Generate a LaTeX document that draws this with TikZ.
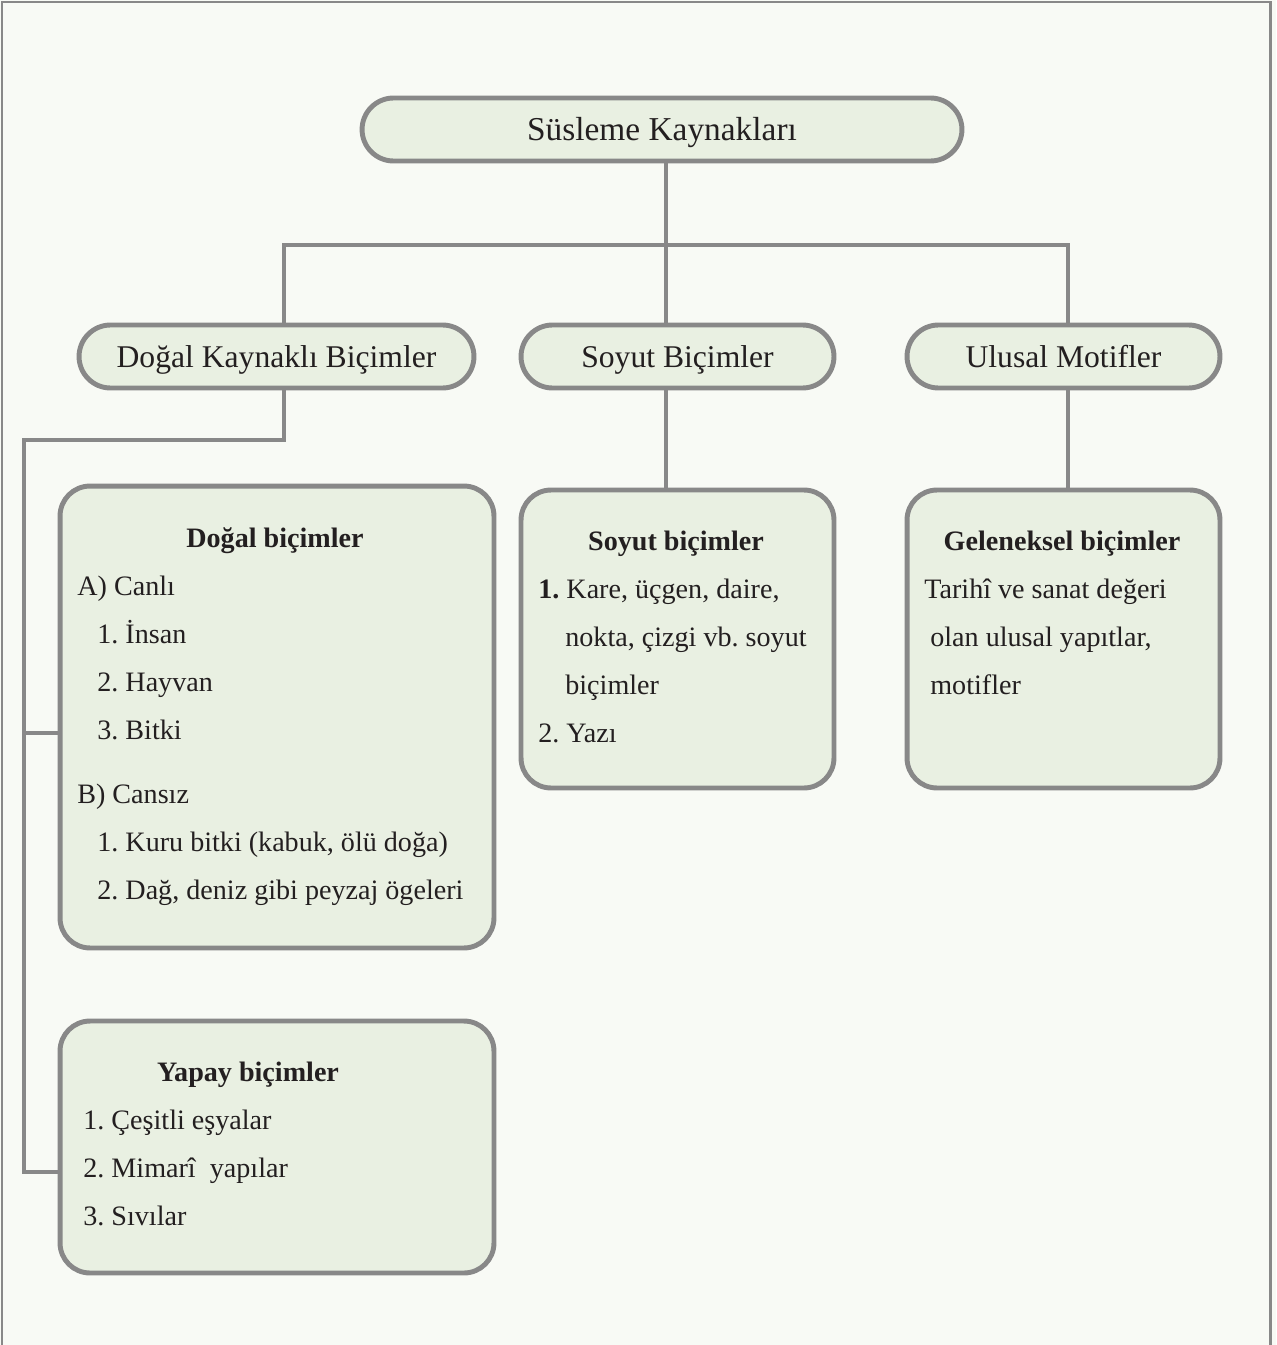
\documentclass[tikz,border=0pt]{standalone}
\usepackage{fontspec}
\setmainfont{Liberation Serif}
\usetikzlibrary{positioning,calc}

\definecolor{bgpaper}{HTML}{F8FAF5}
\definecolor{boxfill}{HTML}{E9F0E2}
\definecolor{edgegray}{HTML}{888888}
\definecolor{inktext}{HTML}{231F20}

\tikzset{
  pill/.style={draw=edgegray, fill=boxfill, line width=2.8pt, rounded corners=0.63cm,
    minimum height=1.26cm, inner sep=0pt, text height=12pt, text depth=0pt,
    text=inktext, font=\fontsize{18}{21}\selectfont},
  infobox/.style={draw=edgegray, fill=boxfill, line width=2.8pt, rounded corners=0.6cm, inner sep=0pt},
  wire/.style={draw=edgegray, line width=2.3pt},
  txt/.style={anchor=mid west, inner sep=0pt, text=inktext, font=\fontsize{16}{19}\selectfont},
  ttl/.style={anchor=mid, inner sep=0pt, text=inktext, font=\fontsize{16}{19}\selectfont\bfseries},
}

\begin{document}
\frenchspacing
\begin{tikzpicture}[x=0.02cm, y=-0.02cm]

\fill[bgpaper] (0,0) rectangle (1276,1345);
\useasboundingbox (0,0) rectangle (1276,1345);
\draw[edgegray, line width=1.7pt] (2,1345) -- (2,2) -- (1270,2) -- (1270,1345);

% top level
\node[pill, minimum width=12cm, font=\fontsize{19}{22}\selectfont] (root) at (662,129.5) {Süsleme Kaynakları};

\node[pill, minimum width=7.9cm] (dogal) at (276.5,356.5) {Doğal Kaynaklı Biçimler};
\node[pill, minimum width=6.26cm] (soyut) at (677.5,356.5) {Soyut Biçimler};
\node[pill, minimum width=6.26cm] (ulusal) at (1063.5,356.5) {Ulusal Motifler};

% boxes
\node[infobox, minimum width=8.68cm, minimum height=9.24cm] (dogalbox) at (277,717) {};
\node[infobox, minimum width=8.68cm, minimum height=5.04cm] (yapaybox) at (277,1147) {};
\node[infobox, minimum width=6.26cm, minimum height=5.96cm] (soyutbox) at (677.5,639) {};
\node[infobox, minimum width=6.26cm, minimum height=5.96cm] (gelenbox) at (1063.5,639) {};

% connectors
\coordinate (hub) at (666,245);
\coordinate (ltap) at (284,245);
\coordinate (rtap) at (1068,245);
\coordinate (bus) at (24,440);
\coordinate (busmid) at (24,733);
\coordinate (busend) at (24,1172);

\draw[wire] (root.south -| hub) -- (hub);
\draw[wire] (ltap |- dogal.north) -- (ltap) -- (rtap) -- (rtap |- ulusal.north);
\draw[wire] (hub) -- (hub |- soyut.north);
\draw[wire] (ltap |- dogal.south) |- (bus) -- (busend) -- (busend -| yapaybox.west);
\draw[wire] (busmid) -- (busmid -| dogalbox.west);
\draw[wire] (soyut.south -| hub) -- (hub |- soyutbox.north);
\draw[wire] (rtap |- ulusal.south) -- (rtap |- gelenbox.north);

% Dogal bicimler
\node[ttl] (d0) at (275,543) {Doğal biçimler};
\node[txt] (d1) at (77,591) {A) Canlı};
\node[txt] (d2) at (97,639) {1. İnsan};
\node[txt] (d3) at (97,687) {2. Hayvan};
\node[txt] (d4) at (97,735) {3. Bitki};
\node[txt] (d5) at (77,799) {B) Cansız};
\node[txt] (d6) at (97,847) {1. Kuru bitki (kabuk, ölü doğa)};
\node[txt] (d7) at (97,895) {2. Dağ, deniz gibi peyzaj ögeleri};

% Yapay bicimler
\node[ttl] (y0) at (248,1077) {Yapay biçimler};
\node[txt] (y1) at (83,1125) {1. Çeşitli eşyalar};
\node[txt] (y2) at (83,1173) {2. Mimarî\ \ yapılar};
\node[txt] (y3) at (83,1221) {3. Sıvılar};

% Soyut bicimler
\node[ttl] (s0) at (676,546) {Soyut biçimler};
\node[txt] (s1) at (538,594) {\textbf{1.} Kare, üçgen, daire,};
\node[txt] (s2) at (565,642) {nokta, çizgi vb. soyut};
\node[txt] (s3) at (565,690) {biçimler};
\node[txt] (s4) at (538,738) {2. Yazı};

% Geleneksel bicimler
\node[ttl] (g0) at (1062,546) {Geleneksel biçimler};
\node[txt] (g1) at (924,594) {Tarihî ve sanat değeri};
\node[txt] (g2) at (930,642) {olan ulusal yapıtlar,};
\node[txt] (g3) at (930,690) {motifler};

\end{tikzpicture}
\end{document}
